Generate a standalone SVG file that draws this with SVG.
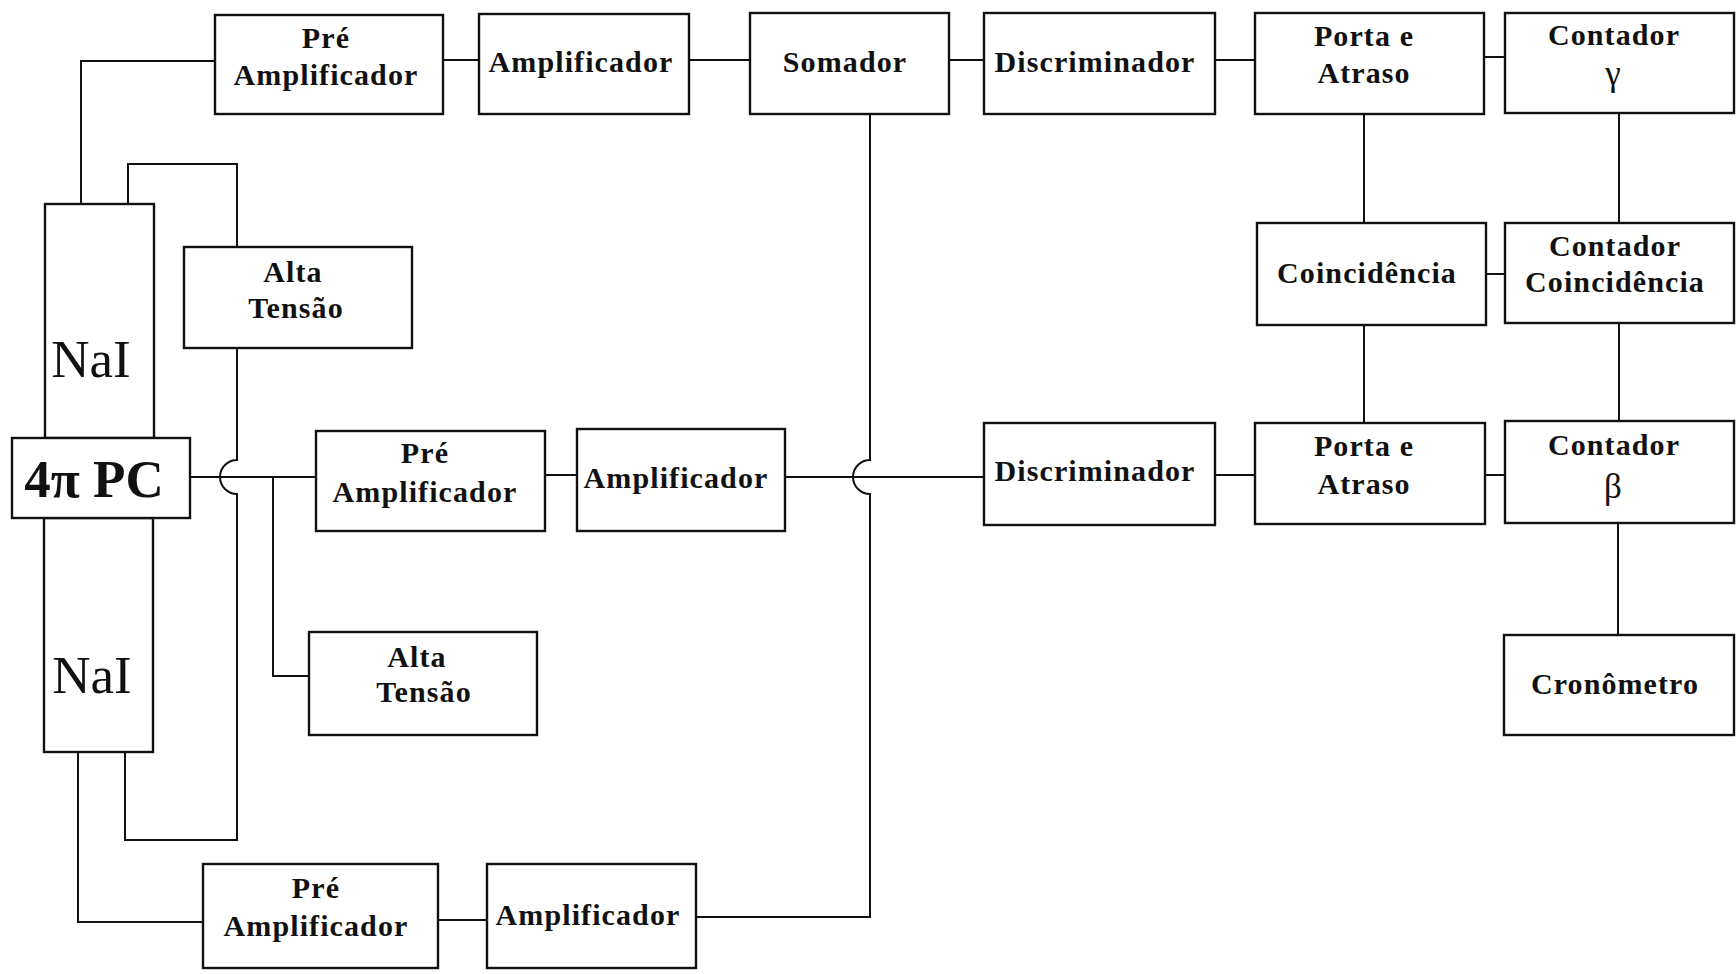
<svg xmlns="http://www.w3.org/2000/svg" width="1736" height="974" viewBox="0 0 1736 974">
<style>
.b{fill:#fff;stroke:#111;stroke-width:2.4}
.t{font-family:"Liberation Serif","Times New Roman",serif;font-weight:bold;font-size:30px;letter-spacing:1.1px;text-anchor:middle;fill:#111}
.g{font-family:"Liberation Serif","Times New Roman",serif;font-size:35px;text-anchor:middle;fill:#111}
.n{font-family:"Liberation Serif","Times New Roman",serif;font-size:53px;text-anchor:middle;fill:#111}
.p{font-family:"Liberation Serif","Times New Roman",serif;font-weight:bold;font-size:53px;text-anchor:middle;fill:#111}
.c{fill:none;stroke:#111;stroke-width:2}
</style>
<rect width="1736" height="974" fill="#fff"/>
<g id="connectors">
<path class="c" d="M81,204 V61 H215"/>
<path class="c" d="M128,204 V164 H237 V247"/>
<path class="c" d="M237,348 V460 A17,17 0 0,0 237,494 V840 H125 V752"/>
<path class="c" d="M78,752 V922 H203"/>
<path class="c" d="M190,477 H316"/>
<path class="c" d="M273,477 V676 H309"/>
<path class="c" d="M545,475 H577"/>
<path class="c" d="M785,477 H984"/>
<path class="c" d="M870,114 V460 A17,17 0 0,0 870,494 V917 H696"/>
<path class="c" d="M438,920 H487"/>
<path class="c" d="M443,60 H479"/>
<path class="c" d="M689,60 H750"/>
<path class="c" d="M949,60 H984"/>
<path class="c" d="M1215,60 H1255"/>
<path class="c" d="M1484,57 H1505"/>
<path class="c" d="M1364,114 V223"/>
<path class="c" d="M1619,113 V223"/>
<path class="c" d="M1486,274 H1505"/>
<path class="c" d="M1364,325 V423"/>
<path class="c" d="M1619,323 V421"/>
<path class="c" d="M1215,475 H1255"/>
<path class="c" d="M1485,475 H1505"/>
<path class="c" d="M1618,523 V635"/>
</g>
<g id="nai-top"><rect class="b" x="45" y="204" width="109" height="234"/><text class="n" x="91" y="377">NaI</text></g>
<g id="nai-bottom"><rect class="b" x="44" y="518" width="109" height="234"/><text class="n" x="92" y="693">NaI</text></g>
<g id="pc4pi"><rect class="b" x="12" y="438" width="178" height="80"/><text class="p" x="94" y="497">4π PC</text></g>
<g id="pre1"><rect class="b" x="215" y="15" width="228" height="99"/><text class="t" x="326" y="48">Pré</text><text class="t" x="326" y="85">Amplificador</text></g>
<g id="amp1"><rect class="b" x="479" y="14" width="210" height="100"/><text class="t" x="581" y="72">Amplificador</text></g>
<g id="somador"><rect class="b" x="750" y="13" width="199" height="101"/><text class="t" x="845" y="72">Somador</text></g>
<g id="disc1"><rect class="b" x="984" y="13" width="231" height="101"/><text class="t" x="1095" y="72">Discriminador</text></g>
<g id="porta1"><rect class="b" x="1255" y="13" width="229" height="101"/><text class="t" x="1364" y="46">Porta e</text><text class="t" x="1364" y="83">Atraso</text></g>
<g id="contgamma"><rect class="b" x="1505" y="13" width="229" height="100"/><text class="t" x="1614" y="45">Contador</text><text class="g" x="1613" y="85">γ</text></g>
<g id="alta1"><rect class="b" x="184" y="247" width="228" height="101"/><text class="t" x="293" y="282">Alta</text><text class="t" x="296" y="318">Tensão</text></g>
<g id="pre2"><rect class="b" x="316" y="431" width="229" height="100"/><text class="t" x="425" y="463">Pré</text><text class="t" x="425" y="502">Amplificador</text></g>
<g id="amp2"><rect class="b" x="577" y="429" width="208" height="102"/><text class="t" x="676" y="488">Amplificador</text></g>
<g id="alta2"><rect class="b" x="309" y="632" width="228" height="103"/><text class="t" x="417" y="667">Alta</text><text class="t" x="424" y="702">Tensão</text></g>
<g id="pre3"><rect class="b" x="203" y="864" width="235" height="104"/><text class="t" x="316" y="898">Pré</text><text class="t" x="316" y="936">Amplificador</text></g>
<g id="amp3"><rect class="b" x="487" y="864" width="209" height="104"/><text class="t" x="588" y="925">Amplificador</text></g>
<g id="disc2"><rect class="b" x="984" y="423" width="231" height="102"/><text class="t" x="1095" y="481">Discriminador</text></g>
<g id="porta2"><rect class="b" x="1255" y="423" width="230" height="101"/><text class="t" x="1364" y="456">Porta e</text><text class="t" x="1364" y="494">Atraso</text></g>
<g id="contbeta"><rect class="b" x="1505" y="421" width="229" height="102"/><text class="t" x="1614" y="455">Contador</text><text class="g" x="1613" y="498">β</text></g>
<g id="coinc"><rect class="b" x="1257" y="223" width="229" height="102"/><text class="t" x="1367" y="283">Coincidência</text></g>
<g id="contcoinc"><rect class="b" x="1505" y="223" width="229" height="100"/><text class="t" x="1615" y="256">Contador</text><text class="t" x="1615" y="292">Coincidência</text></g>
<g id="cronometro"><rect class="b" x="1504" y="635" width="230" height="100"/><text class="t" x="1615" y="694">Cronômetro</text></g>
</svg>
